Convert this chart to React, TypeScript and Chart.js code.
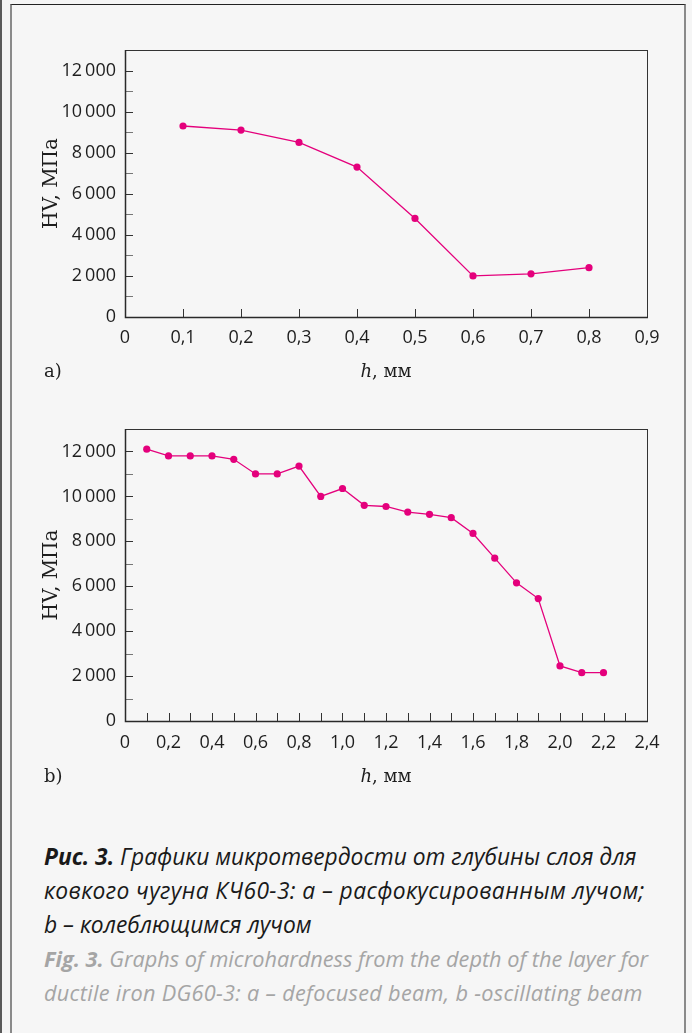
import React, { useEffect, useRef } from 'react';
import { Chart, registerables } from 'chart.js';

Chart.register(...registerables);

// ---- Data (panel a: defocused beam) ----
const depthA = [0.1, 0.2, 0.3, 0.4, 0.5, 0.6, 0.7, 0.8];
const hvA = [9300, 9100, 8500, 7300, 4800, 2000, 2100, 2400];

// ---- Data (panel b: oscillating beam) ----
const depthB = [0.1, 0.2, 0.3, 0.4, 0.5, 0.6, 0.7, 0.8, 0.9, 1.0, 1.1, 1.2, 1.3, 1.4, 1.5, 1.6, 1.7, 1.8, 1.9, 2.0, 2.1, 2.2];
const hvB = [12100, 11800, 11800, 11800, 11650, 11000, 11000, 11350, 10000, 10350, 9600, 9550, 9300, 9200, 9050, 8350, 7250, 6150, 5450, 2450, 2150, 2150];

// ---- Axis settings ----
const yMax = 13000;
const yStep = 1000;
const yLabelEvery = 2000;
const xMaxA = 0.9;
const xMaxB = 2.4;
const xStep = 0.1;

const yTitle = 'HV, МПа';
const xTitleItalic = 'h';
const xTitleRest = ', мм';

const lineColor = '#e4007c';
const tickFont = '"Open Sans", sans-serif';
const serifFont = '"DejaVu Serif", serif';

function fmtY(v: number): string {
  if (Math.round(v) % yLabelEvery !== 0) return '';
  if (v === 0) return '0';
  const th = Math.floor(v / 1000);
  return th + '\u2009000';
}

function fmtX(v: number, every: number): string {
  const tenth = Math.round(v * 10);
  if (tenth % every !== 0) return '';
  if (tenth === 0) return '0';
  return (tenth / 10).toFixed(1).replace('.', ',');
}

const framePlugin = {
  id: 'framePlugin',
  beforeDatasetsDraw(chart: any) {
    const { ctx, chartArea: a, scales } = chart;
    const x = scales.x;
    const y = scales.y;
    ctx.save();
    ctx.lineWidth = 1;
    for (const t of x.ticks) {
      const v = t.value;
      if (v <= x.min + 1e-9 || v >= x.max - 1e-9) continue;
      const px = Math.round(x.getPixelForValue(v)) + 0.5;
      ctx.strokeStyle = '#333';
      ctx.beginPath();
      ctx.moveTo(px, a.bottom);
      ctx.lineTo(px, a.bottom - 8);
      ctx.stroke();
    }
    for (const t of y.ticks) {
      const v = t.value;
      if (v <= y.min + 1e-9 || v >= y.max - 1e-9) continue;
      const py = Math.round(y.getPixelForValue(v)) + 0.5;
      ctx.strokeStyle = t.label ? '#333' : '#777';
      ctx.beginPath();
      ctx.moveTo(a.left, py);
      ctx.lineTo(a.left + 8, py);
      ctx.stroke();
    }
    ctx.strokeStyle = '#333';
    ctx.lineWidth = 1;
    ctx.strokeRect(a.left + 0.5, a.top + 0.5, a.right - a.left, a.bottom - a.top);
    ctx.lineWidth = 1.5;
    ctx.strokeStyle = '#2a2a2a';
    ctx.beginPath();
    ctx.moveTo(a.left + 0.5, a.top);
    ctx.lineTo(a.left + 0.5, a.bottom + 0.5);
    ctx.lineTo(a.right + 1, a.bottom + 0.5);
    ctx.stroke();
    ctx.restore();
  },
  afterDraw(chart: any, _args: any, opts: any) {
    const { ctx, chartArea: a } = chart;
    ctx.save();
    ctx.fillStyle = '#1e1e1e';
    // y title
    ctx.font = '20px ' + serifFont;
    ctx.textAlign = 'center';
    ctx.textBaseline = 'middle';
    ctx.translate(a.left - 73, (a.top + a.bottom) / 2);
    ctx.rotate(-Math.PI / 2);
    ctx.fillText(yTitle, 0, 0);
    ctx.setTransform(1, 0, 0, 1, 0, 0);
    // x title
    const ty = a.bottom + (opts.titleGap || 55);
    ctx.textAlign = 'left';
    ctx.font = 'italic 18px ' + serifFont;
    const w1 = ctx.measureText(xTitleItalic).width;
    ctx.font = '18px ' + serifFont;
    const w2 = ctx.measureText(xTitleRest).width;
    const cx = (a.left + a.right) / 2;
    const sx = cx - (w1 + w2) / 2;
    ctx.font = 'italic 18px ' + serifFont;
    ctx.fillText(xTitleItalic, sx, ty);
    ctx.font = '18px ' + serifFont;
    ctx.fillText(xTitleRest, sx + w1, ty);
    // panel label
    ctx.fillText(opts.panel || '', 44, ty);
    ctx.restore();
  },
};

type PanelProps = {
  xs: number[];
  ys: number[];
  xMax: number;
  labelEvery: number;
  top: number;
  height: number;
  padTop: number;
  axisBottom: number;
  panel: string;
  titleGap: number;
  xPad: number;
};

function Panel(props: PanelProps) {
  const ref = useRef<HTMLCanvasElement | null>(null);
  useEffect(() => {
    if (!ref.current) return;
    const points = props.xs.map((x, i) => ({ x, y: props.ys[i] }));
    const chart = new Chart(ref.current, {
      type: 'line',
      data: {
        datasets: [
          {
            data: points,
            borderColor: lineColor,
            backgroundColor: lineColor,
            borderWidth: 1.3,
            pointRadius: 3.6,
            pointBorderWidth: 0,
            pointBackgroundColor: lineColor,
            tension: 0,
          },
        ],
      },
      options: {
        animation: false,
        responsive: false,
        devicePixelRatio: 1,
        layout: { padding: { top: props.padTop, left: 0, right: 45, bottom: 0 } },
        plugins: {
          legend: { display: false },
          tooltip: { enabled: false },
          framePlugin: { panel: props.panel, titleGap: props.titleGap },
        } as any,
        scales: {
          x: {
            type: 'linear',
            min: 0,
            max: props.xMax,
            grid: { display: false, drawTicks: false, tickLength: 0 },
            border: { display: false },
            ticks: {
              stepSize: xStep,
              autoSkip: false,
              maxRotation: 0,
              padding: props.xPad,
              color: '#1e1e1e',
              font: { family: tickFont, size: 18 },
              callback: (v: any) => fmtX(Number(v), props.labelEvery),
            },
            afterFit: (s: any) => {
              s.height = props.height - props.axisBottom;
            },
          },
          y: {
            type: 'linear',
            min: 0,
            max: yMax,
            grid: { display: false, drawTicks: false, tickLength: 0 },
            border: { display: false },
            ticks: {
              stepSize: yStep,
              autoSkip: false,
              padding: 9,
              color: '#1e1e1e',
              font: { family: tickFont, size: 18 },
              callback: (v: any) => fmtY(Number(v)),
            },
            afterFit: (s: any) => {
              s.width = 125;
            },
          },
        },
      },
      plugins: [framePlugin],
    });
    return () => chart.destroy();
  }, []);
  return (
    <canvas
      ref={ref}
      width={692}
      height={props.height}
      style={{ position: 'absolute', left: 0, top: props.top, width: 692, height: props.height }}
    />
  );
}

export default function App() {
  return (
    <div style={{ position: 'absolute', left: 0, top: 0, width: 692, height: 1033, background: '#f5f5f5', overflow: 'hidden' }}>
      <div style={{ position: 'absolute', left: 0, top: 0, width: 2, height: 1033, background: '#5a5a5a' }} />
      <div
        style={{
          position: 'absolute',
          left: 10,
          top: 4,
          width: 672,
          height: 1100,
          borderTop: '1.5px solid #222',
          borderLeft: '2px solid #8a8a8a',
          borderRight: '2px solid #8a8a8a',
          background: '#f6f6f6',
        }}
      />
      <Panel xs={depthA} ys={hvA} xMax={xMaxA} labelEvery={1} top={0} height={400} padTop={50} axisBottom={317} panel="a)" titleGap={55} xPad={10} />
      <Panel xs={depthB} ys={hvB} xMax={xMaxB} labelEvery={2} top={400} height={420} padTop={29} axisBottom={321} panel="b)" titleGap={56} xPad={11} />
      <div
        style={{
          position: 'absolute',
          left: 44,
          top: 840,
          fontFamily: '"Open Sans", sans-serif',
          fontStyle: 'italic',
          fontSize: 22.8,
          lineHeight: '34px',
          color: '#1a1a1a',
          whiteSpace: 'nowrap',
        }}
      >
        <b>Рис. 3.</b> Графики микротвердости от глубины слоя для
        <br />
        <span style={{ letterSpacing: '0.4px' }}>ковкого чугуна КЧ60-3: a – расфокусированным лучом;</span>
        <br />
        b – колеблющимся лучом
        <div style={{ color: '#a5a5a5', fontSize: 21.7 }}>
          <b>Fig. 3.</b> Graphs of microhardness from the depth of the layer for
          <br />
          <span style={{ letterSpacing: '0.3px' }}>ductile iron DG60-3: a – defocused beam, b -oscillating beam</span>
        </div>
      </div>
    </div>
  );
}
